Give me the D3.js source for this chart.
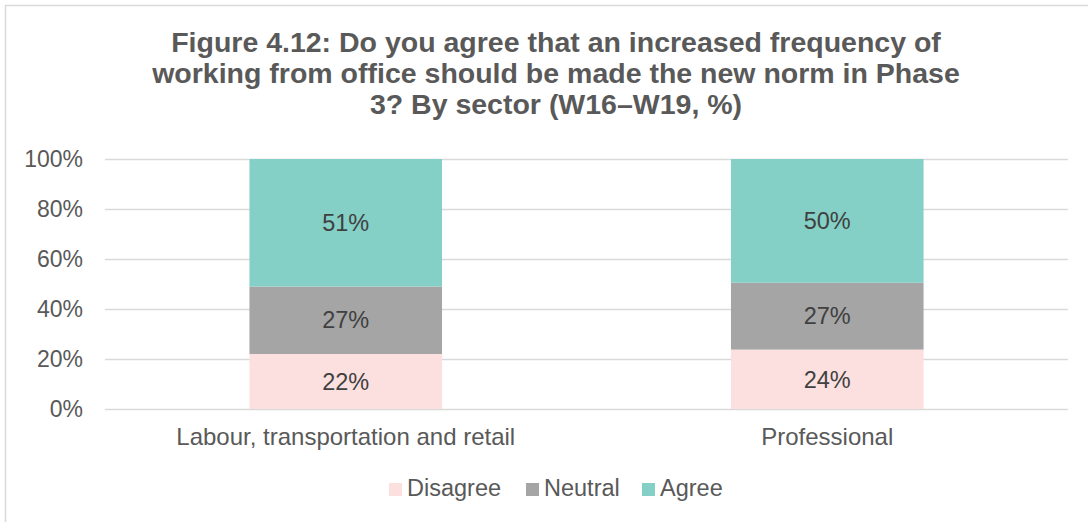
<!DOCTYPE html>
<html>
<head>
<meta charset="utf-8">
<script src="https://cdn.jsdelivr.net/npm/d3@7"></script>
<style>
  html, body { margin: 0; padding: 0; background: #fff; }
  svg { display: block; font-family: "Liberation Sans", Arial, sans-serif; }
</style>
</head>
<body>
<svg id="chart" width="1088" height="522"></svg>
<script>
// Sectors on the x axis
const categories = ["Labour, transportation and retail", "Professional"];
// Response shares (%) per sector
const series = ["Disagree", "Neutral", "Agree"];
const disagree = [22, 24];
const neutral = [27, 27];
const agree = [51, 50];
const yTicks = [0, 0.2, 0.4, 0.6, 0.8, 1.0];
const titleLines = [
  "Figure 4.12: Do you agree that an increased frequency of",
  "working from office should be made the new norm in Phase",
  "3? By sector (W16\u2013W19, %)"
];
const colors = { Disagree: "#fce0e0", Neutral: "#a5a5a5", Agree: "#84d0c6" };

const FONT = "Liberation Sans, Arial, sans-serif";
const svg = d3.select("#chart");

// outer chart frame
svg.append("rect")
  .attr("x", 5.5).attr("y", 5.5)
  .attr("width", 1120).attr("height", 540)
  .attr("fill", "#fff").attr("stroke", "#d9d9d9").attr("stroke-width", 1.5);

// title
svg.append("g").selectAll("text").data(titleLines).join("text")
  .attr("x", 556).attr("y", (d, i) => 52 + i * 31)
  .attr("text-anchor", "middle")
  .attr("font-size", 28.5).attr("font-weight", "bold")
  .attr("fill", "#595959")
  .text(d => d);

const plot = { left: 105, right: 1068, top: 159, bottom: 409 };

const rows = categories.map((c, i) => ({
  category: c, Disagree: disagree[i], Neutral: neutral[i], Agree: agree[i]
}));

// each bar is shown as shares of 100%
const stacked = d3.stack().keys(series).offset(d3.stackOffsetExpand)(rows);

const x = d3.scaleBand().domain(categories)
  .range([plot.left, plot.right]).paddingInner(0.6).paddingOuter(0.3);
const y = d3.scaleLinear().domain([0, 1]).range([plot.bottom, plot.top]);

// gridlines
svg.append("g").selectAll("line").data(yTicks).join("line")
  .attr("x1", plot.left).attr("x2", plot.right)
  .attr("y1", d => Math.round(y(d)) + 0.5).attr("y2", d => Math.round(y(d)) + 0.5)
  .attr("stroke", "#d9d9d9").attr("stroke-width", 1.5);

// y axis labels
const yAxis = d3.axisLeft(y).tickValues(yTicks)
  .tickFormat(d3.format(".0%")).tickSize(0).tickPadding(0);
const yg = svg.append("g").attr("transform", "translate(83,0)").call(yAxis);
yg.select(".domain").remove();
yg.selectAll("text").attr("font-size", 23).attr("fill", "#595959")
  .attr("font-family", FONT);

// stacked bars
const layers = svg.append("g").selectAll("g").data(stacked).join("g")
  .attr("fill", d => colors[d.key]);
layers.selectAll("rect").data(d => d).join("rect")
  .attr("x", d => x(d.data.category))
  .attr("width", x.bandwidth())
  .attr("y", d => y(d[1]))
  .attr("height", d => y(d[0]) - y(d[1]));

// data labels
const labels = svg.append("g");
stacked.forEach(layer => {
  labels.selectAll(null).data(layer).join("text")
    .attr("x", d => x(d.data.category) + x.bandwidth() / 2)
    .attr("y", d => (y(d[0]) + y(d[1])) / 2)
    .attr("dy", "0.35em")
    .attr("text-anchor", "middle")
    .attr("font-size", 23.5).attr("fill", "#404040")
    .text(d => d.data[layer.key] + "%");
});

// x axis labels
const xAxis = d3.axisBottom(x).tickSize(0).tickPadding(0);
const xg = svg.append("g").attr("transform", `translate(0,${plot.bottom})`).call(xAxis);
xg.select(".domain").remove();
xg.selectAll("text").attr("font-size", 24).attr("fill", "#595959")
  .attr("font-family", FONT).attr("dy", null).attr("y", 36);

// legend
const legendX = [389, 526, 642];
const lg = svg.append("g").selectAll("g").data(series).join("g")
  .attr("transform", (d, i) => `translate(${legendX[i]},496)`);
lg.append("rect").attr("x", 0).attr("y", -13).attr("width", 13).attr("height", 13)
  .attr("fill", d => colors[d]);
lg.append("text").attr("x", 18).attr("y", 0)
  .attr("font-size", 23.5).attr("fill", "#595959").text(d => d);
</script>
</body>
</html>
